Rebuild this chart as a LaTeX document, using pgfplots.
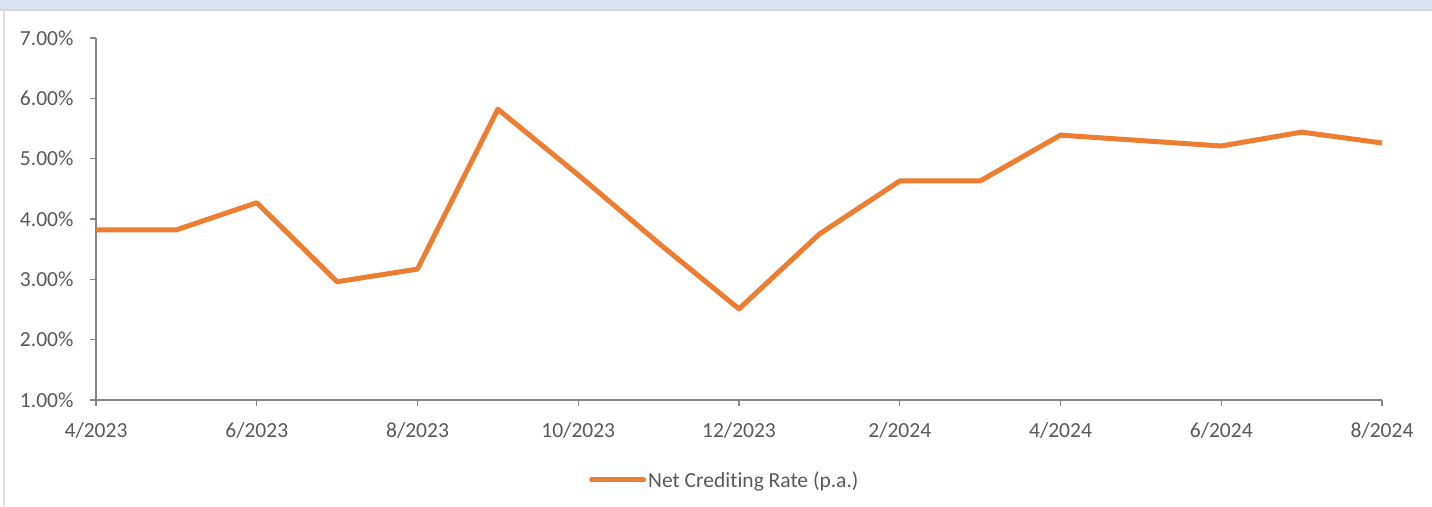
\documentclass[border=0pt]{standalone}
\usepackage{pgfplots}
\pgfplotsset{compat=1.18}
\usepackage{fontspec}
\setmainfont{Carlito}[Ligatures=NoCommon]
\definecolor{lineorange}{HTML}{ED7D31}
\definecolor{textgray}{HTML}{595959}
\definecolor{axisgray}{HTML}{868686}
\definecolor{bandblue}{HTML}{DAE3F3}
\begin{document}
\begin{tikzpicture}[x=1pt,y=1pt]
\useasboundingbox (0,0) rectangle (1432,506);
\fill[white] (0,0) rectangle (1432,506);
\fill[bandblue] (0,497) rectangle (1432,506);
\draw[black!15, line width=1.5pt] (0,496) -- (1432,496);
\draw[black!12, line width=1.2pt] (4,0) -- (4,496);
\begin{axis}[
  at={(96pt,106pt)}, anchor=south west,
  width=1286pt, height=362pt, scale only axis,
  xmin=0, xmax=16, ymin=1, ymax=7,
  axis x line=bottom, axis y line=left,
  axis line style={draw=axisgray, line width=1.4pt, -},
  xtick={0,2,4,6,8,10,12,14,16},
  xticklabels={4/2023,6/2023,8/2023,10/2023,12/2023,2/2024,4/2024,6/2024,8/2024},
  ytick={1,2,3,4,5,6,7},
  yticklabels={1.00\%,2.00\%,3.00\%,4.00\%,5.00\%,6.00\%,7.00\%},
  tick align=outside, major tick length=6pt,
  tick style={draw=axisgray, line width=1.4pt},
  ticklabel style={font=\fontsize{21.5}{25}\selectfont, text=textgray},
  yticklabel style={xshift=-13pt},
  xticklabel style={yshift=-13pt},
  legend style={at={(0.489,-0.221)}, anchor=center, draw=none, fill=none,
    font=\fontsize{21.5}{25}\selectfont, text=textgray},
  legend image code/.code={\draw[#1, line cap=round] (0pt,0pt) -- (52pt,0pt);},
  clip=false,
]
\addplot[lineorange, line width=5pt, line join=round] coordinates {
 (0,3.82) (1,3.82) (2,4.27) (3,2.96) (4,3.17) (5,5.82) (6,4.73) (7,3.60)
 (8,2.51) (9,3.75) (10,4.63) (11,4.63) (12,5.39) (13,5.30) (14,5.21)
 (15,5.44) (16,5.26)
};
\addlegendentry{Net Crediting Rate (p.a.)}
\end{axis}
\end{tikzpicture}
\end{document}
